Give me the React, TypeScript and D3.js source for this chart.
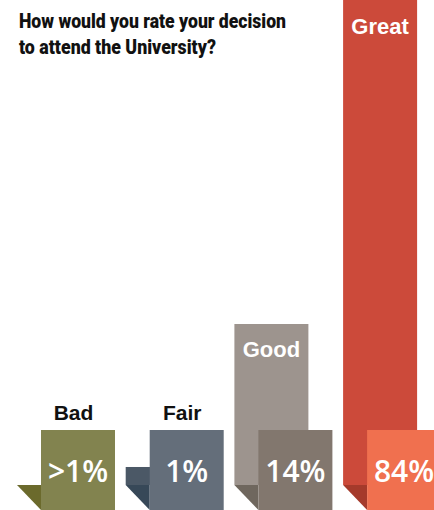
import React from "react";
import * as d3 from "d3";

const categories = ["Bad", "Fair", "Good", "Great"];
const values = [0, 1, 14, 84];
const valueLabels = [">1%", "1%", "14%", "84%"];
const titleLines = ["How would you rate your decision", "to attend the University?"];

const barColors = ["#82834f", "#4b5866", "#9d948e", "#cc4a3a"];
const boxColors = ["#82834f", "#646e7a", "#82776e", "#f0704f"];
const foldColors = ["#6b6a2c", "#374858", "#6f675e", "#a53a2b"];

const W = 434;
const H = 510;
const baseY = 485;
const barW = 74;
const offset = 24;
const boxTop = 430;

export default function App() {
  const x = d3.scaleBand<string>().domain(categories).range([17, 17 + 4 * 108.7]).padding(0);
  const h = d3.scalePow().exponent(0.83).domain([0, 14]).range([0, 161]);

  return (
    <div style={{ position: "absolute", left: 0, top: 0 }}>
      <svg width={W} height={H} style={{ display: "block" }}>
        <rect x={0} y={0} width={W} height={H} fill="#ffffff" />
        {titleLines.map((t, i) => (
          <text
            key={i}
            x={19}
            y={28 + i * 26}
            fontFamily="Roboto, 'DejaVu Sans Condensed', sans-serif"
            fontWeight={900}
            fontSize={20.5}
            fill="#111"
            textLength={i === 0 ? 267 : 197}
            lengthAdjust="spacingAndGlyphs"
          >
            {t}
          </text>
        ))}
        {categories.map((c, i) => {
          const bx = x(c)!;
          const boxX = bx + offset;
          const bh = h(values[i]);
          const top = baseY - bh;
          const inside = bh > 60;
          return (
            <g key={c}>
              {bh > 0 && <rect x={bx} y={Math.max(top, 0)} width={barW} height={baseY - Math.max(top, 0)} fill={barColors[i]} />}
              <path
                d={`M${bx},${baseY}L${boxX},${baseY}L${boxX},${H}Z`}
                fill={foldColors[i]}
              />
              <rect x={boxX} y={boxTop} width={barW} height={H - boxTop} fill={boxColors[i]} />
              <text
                x={boxX + barW / 2}
                y={482}
                textAnchor="middle"
                fontFamily="'Open Sans', sans-serif"
                fontWeight={600}
                fontSize={30}
                fill="#ffffff"
              >
                {valueLabels[i]}
              </text>
              {inside ? (
                <text
                  x={bx + barW / 2}
                  y={Math.max(top, 0) + (top > 0 ? 33 : 34)}
                  textAnchor="middle"
                  fontFamily="'Liberation Sans', Arial, sans-serif"
                  fontWeight="bold"
                  fontSize={22}
                  fill="#ffffff"
                >
                  {c}
                </text>
              ) : (
                <text
                  x={boxX + barW / 2 - 4.5}
                  y={420}
                  textAnchor="middle"
                  fontFamily="'Liberation Sans', Arial, sans-serif"
                  fontWeight="bold"
                  fontSize={21}
                  fill="#111"
                >
                  {c}
                </text>
              )}
            </g>
          );
        })}
      </svg>
    </div>
  );
}
